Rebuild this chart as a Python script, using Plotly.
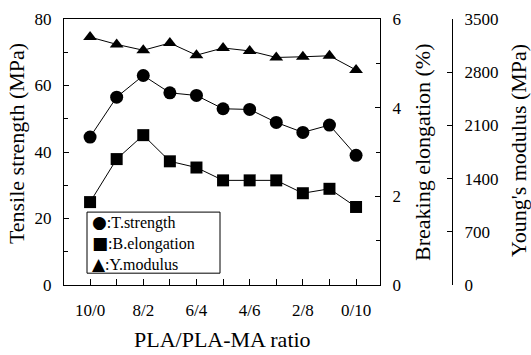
import plotly.graph_objects as go

ratios = ["10/0", "9/1", "8/2", "7/3", "6/4", "5/5", "4/6", "3/7", "2/8", "1/9", "0/10"]
shown_ticks = ["10/0", "8/2", "6/4", "4/6", "2/8", "0/10"]
t_strength = [44.5, 56.5, 63.0, 57.8, 57.0, 53.0, 52.8, 48.9, 45.9, 48.1, 39.0]
b_elongation = [1.87, 2.84, 3.38, 2.79, 2.65, 2.36, 2.36, 2.36, 2.07, 2.17, 1.76]
y_modulus = [3262, 3166, 3089, 3184, 3024, 3119, 3080, 2994, 3003, 3016, 2829]

W, H = 531, 355
ML, MR, MT, MB = 64, 10, 15, 70
PW, PH = W - ML - MR, H - MT - MB


def px(x):
    return (x - ML) / PW


def py(y):
    return (H - MB - y) / PH


FONT = "Liberation Serif, Times New Roman, serif"
xs = list(range(len(ratios)))
ticktext = [r if r in shown_ticks else "" for r in ratios]

fig = go.Figure()
fig.add_trace(go.Scatter(x=xs, y=t_strength, mode="lines+markers", name="T.strength",
                         line=dict(color="black", width=1),
                         marker=dict(symbol="circle", size=13, color="black"),
                         showlegend=False, yaxis="y"))
fig.add_trace(go.Scatter(x=xs, y=b_elongation, mode="lines+markers", name="B.elongation",
                         line=dict(color="black", width=1),
                         marker=dict(symbol="square", size=12, color="black"),
                         showlegend=False, yaxis="y2"))
fig.add_trace(go.Scatter(x=xs, y=y_modulus, mode="lines+markers", name="Y.modulus",
                         line=dict(color="black", width=1),
                         marker=dict(symbol="triangle-up", size=12, color="black"),
                         showlegend=False, yaxis="y3"))

axis_common = dict(showgrid=False, zeroline=False, showline=True, linecolor="black",
                   linewidth=1, ticks="inside", tickcolor="black", tickwidth=1,
                   tickfont=dict(family=FONT, size=17, color="black"))

fig.update_layout(
    width=W, height=H,
    margin=dict(l=ML, r=MR, t=MT, b=MB),
    paper_bgcolor="white", plot_bgcolor="white",
    font=dict(family=FONT, color="black"),
    showlegend=False,
    xaxis=dict(**axis_common, domain=[0, (380 - ML) / PW], range=[-0.98, 10.9],
               tickmode="array", tickvals=xs, ticktext=ticktext, ticklen=6,
               mirror=True, ticklabelstandoff=10),
    yaxis=dict(**axis_common, range=[0, 80], tickvals=[0, 20, 40, 60, 80], ticklen=5,
               minor=dict(tickvals=[10, 30, 50, 70], ticks="inside", ticklen=4,
                          tickcolor="black"),
               ticklabelstandoff=8),
    yaxis2=dict(**axis_common, range=[0, 6], tickvals=[0, 2, 4, 6], ticklen=5,
                overlaying="y", side="right", anchor="x",
                minor=dict(tickvals=[1, 3, 5], ticks="inside", ticklen=4,
                           tickcolor="black"),
                ticklabelstandoff=8),
    yaxis3=dict(**axis_common, range=[0, 3500],
                tickvals=[0, 700, 1400, 2100, 2800, 3500], ticklen=5,
                overlaying="y", side="right", anchor="free", position=px(452),
                ticklabelstandoff=8),
)

TF = dict(family=FONT, size=22, color="black")
titles = [
    ("Tensile strength (MPa)", 16, 142),
    ("Breaking elongation (%)", 422, 150),
    ("Young's modulus (MPa)", 518, 149),
]
for text, x, y in titles:
    fig.add_annotation(text=text, x=px(x), y=py(y), xref="paper", yref="paper",
                       xanchor="center", yanchor="middle", textangle=-90,
                       showarrow=False, font=TF)
fig.add_annotation(text="PLA/PLA-MA ratio", x=px(222), y=py(340), xref="paper",
                   yref="paper", xanchor="center", yanchor="middle",
                   showarrow=False, font=TF)

# legend box
fig.add_shape(type="rect", xref="paper", yref="paper",
              x0=px(87), x1=px(220), y0=py(273), y1=py(211),
              line=dict(color="black", width=1), fillcolor="white", layer="above")
legend_items = [("●", ":T.strength"), ("■", ":B.elongation"), ("▲", ":Y.modulus")]
legend_text = "<br>".join(
    f"<span style='font-family:DejaVu Sans;font-size:17px'>{sym}</span>{label}"
    for sym, label in legend_items)
fig.add_annotation(text=legend_text, x=px(90), y=py(242), xref="paper", yref="paper",
                   xanchor="left", yanchor="middle", align="left", showarrow=False,
                   font=dict(family=FONT, size=16, color="black"))

fig.write_html("out.html")
